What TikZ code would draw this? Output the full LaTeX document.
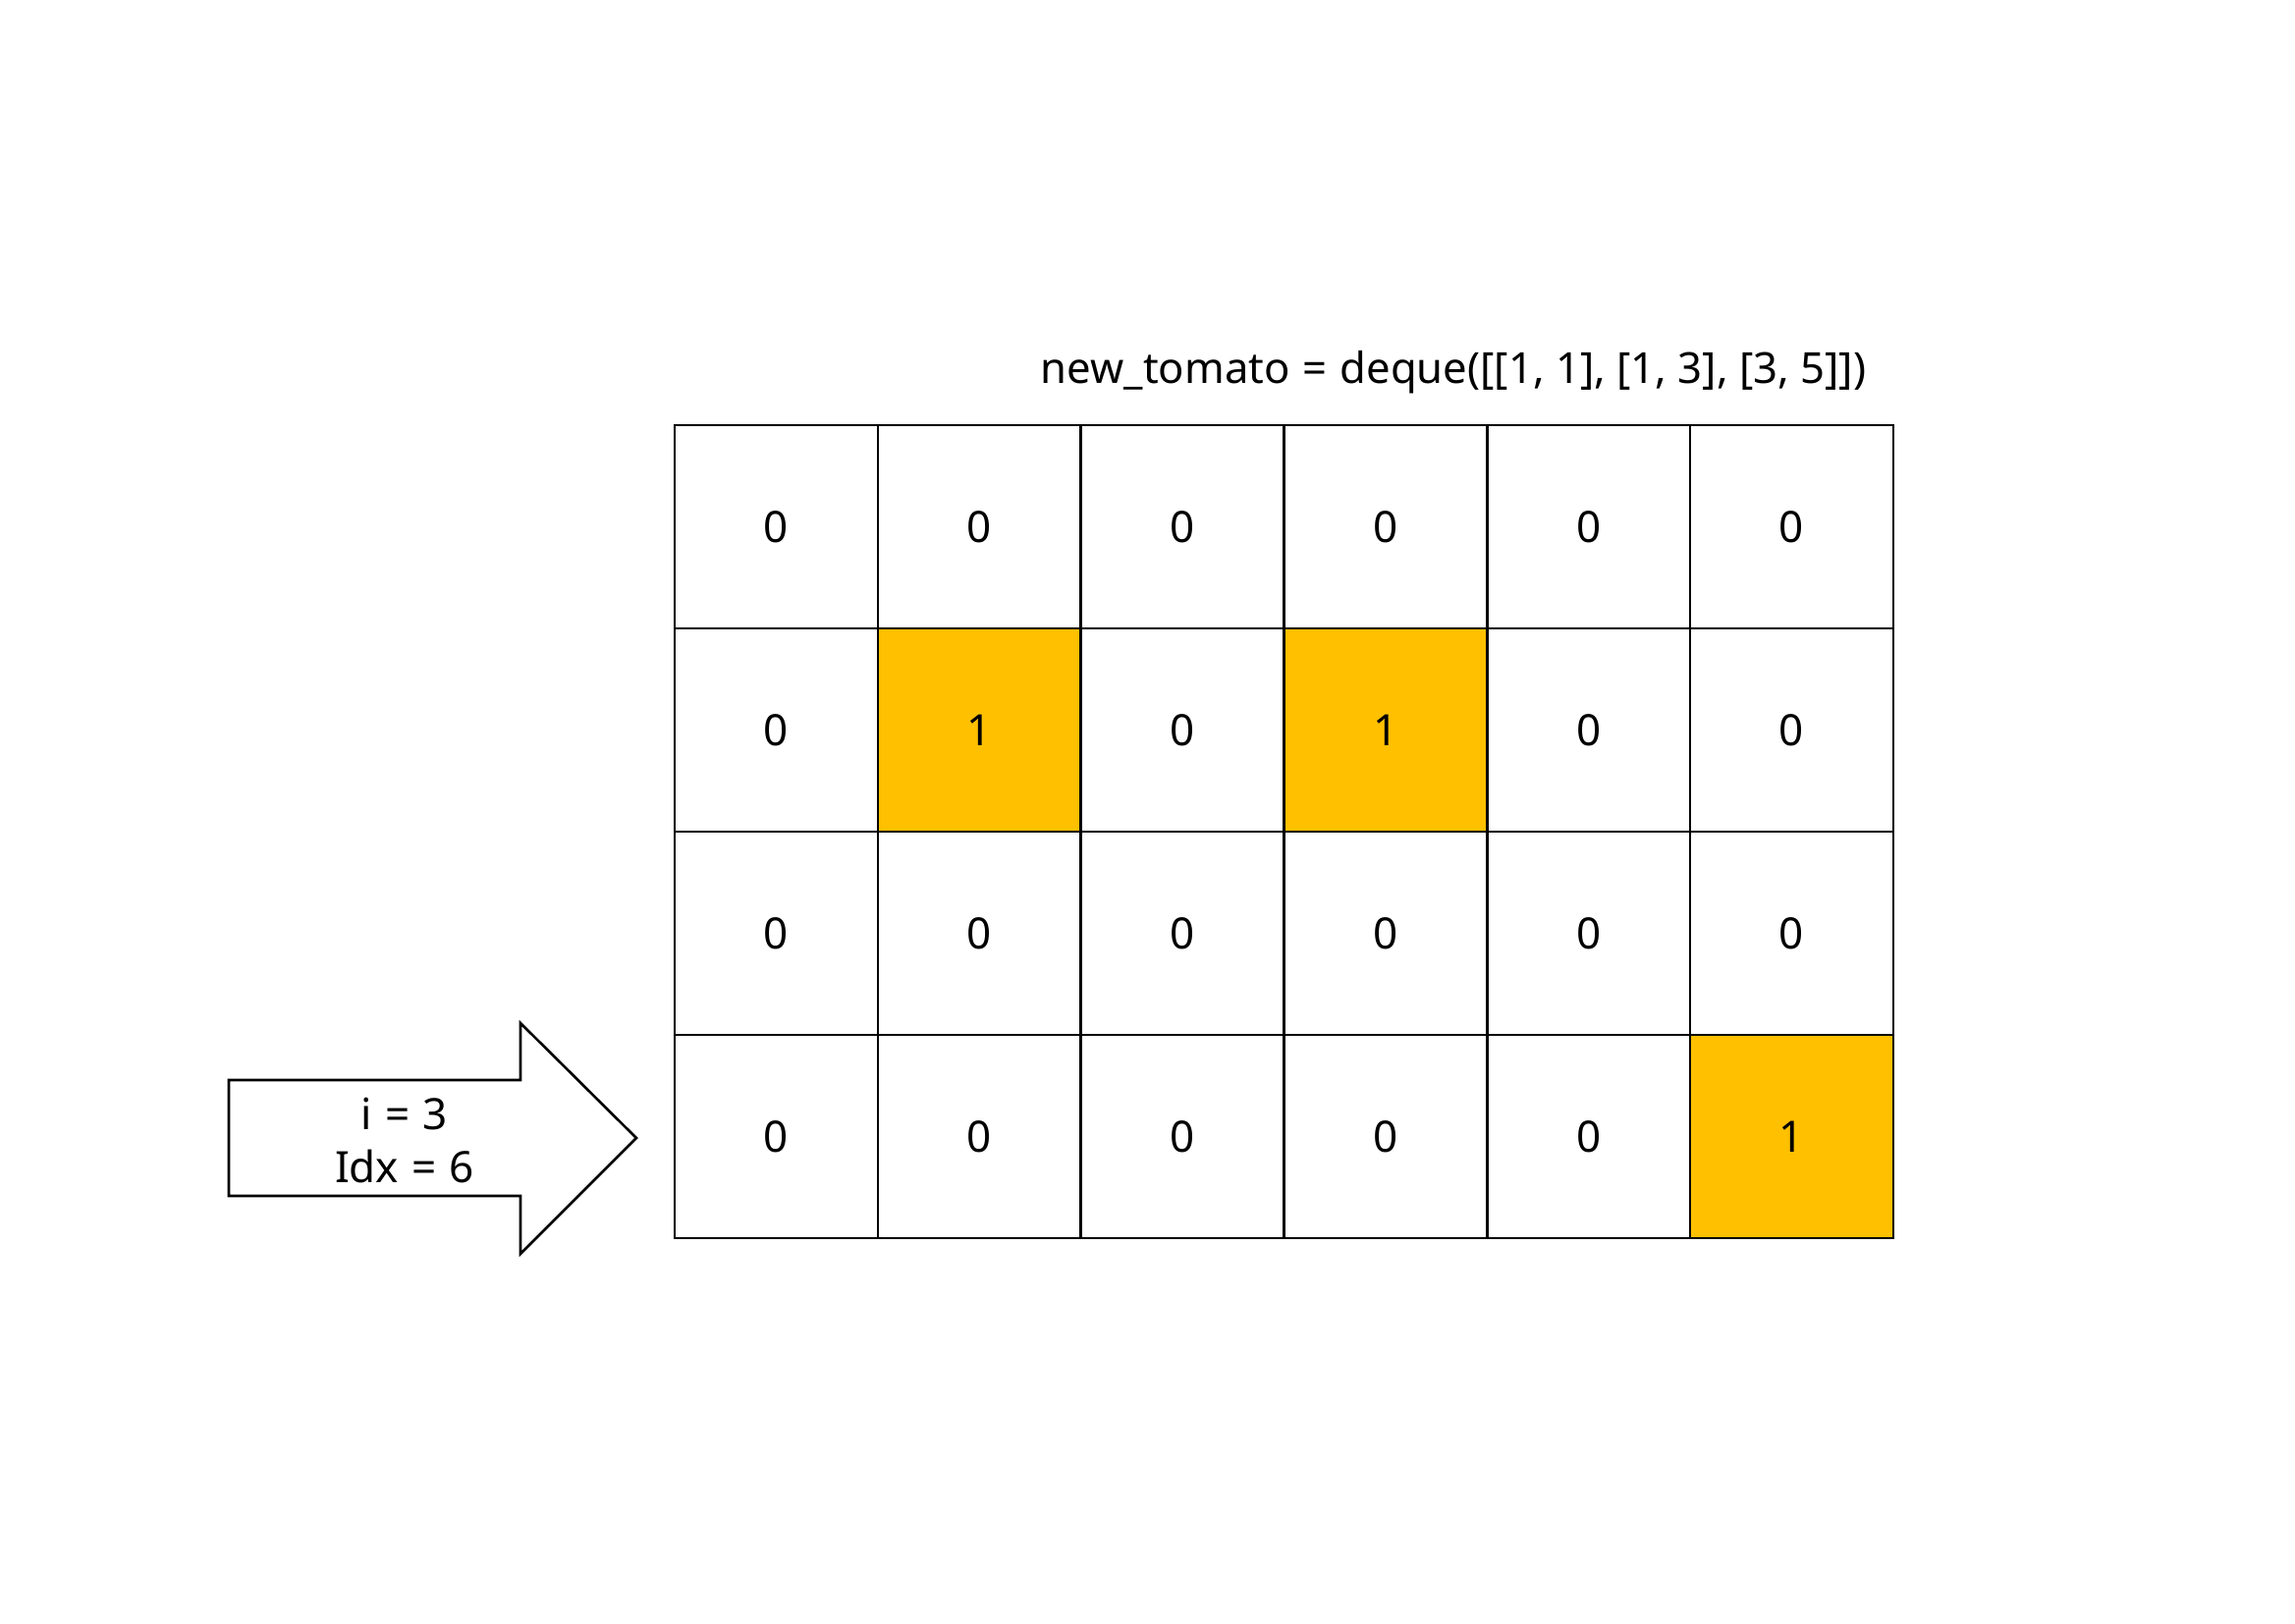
\documentclass[tikz,border=0pt]{standalone}
\usepackage{fontspec}
\setmainfont{Noto Sans}
\begin{document}
\begin{tikzpicture}[x=0.5pt,y=-0.5pt,
  cell/.style={draw=black,line width=1.3pt,minimum width=103.4pt,minimum height=103.5pt,inner sep=0pt,anchor=center,font=\fontsize{22}{26}\selectfont},
  hot/.style={cell,fill=orange1},
  lbl/.style={font=\fontsize{22}{27}\selectfont,inner sep=0pt}]
\definecolor{orange1}{HTML}{FFC000}
\useasboundingbox (0,0) rectangle (2337,1653);
\fill[white] (0,0) rectangle (2337,1653);
% grid
\foreach \r/\row in {0/{0,0,0,0,0,0},1/{0,1,0,1,0,0},2/{0,0,0,0,0,0},3/{0,0,0,0,0,1}}{
  \foreach \v [count=\c from 0] in \row {
    \ifnum\v=1
      \node[hot] (c-\r-\c) at ({687+206.8*(\c+0.5)},{433+207*(\r+0.5)}) {\v};
    \else
      \node[cell] (c-\r-\c) at ({687+206.8*(\c+0.5)},{433+207*(\r+0.5)}) {\v};
    \fi
  }
}
\node[lbl,font=\fontsize{21.8}{27}\selectfont] (title) at (1480,379) {new\_tomato\hspace{0.3em}=\hspace{0.3em}deque([[1, 1], [1, 3], [3, 5]])};
% arrow
\draw[line width=1.3pt,fill=white,line join=miter] (233,1100) -- (530,1100) -- (530,1042) -- (648,1159) -- (530,1277) -- (530,1218) -- (233,1218) -- cycle;
\node[lbl,align=center] (arrowtext) at (412,1161) {i\hspace{0.3em}=\hspace{0.3em}3\\Idx\hspace{0.3em}=\hspace{0.3em}6};
\end{tikzpicture}
\end{document}
